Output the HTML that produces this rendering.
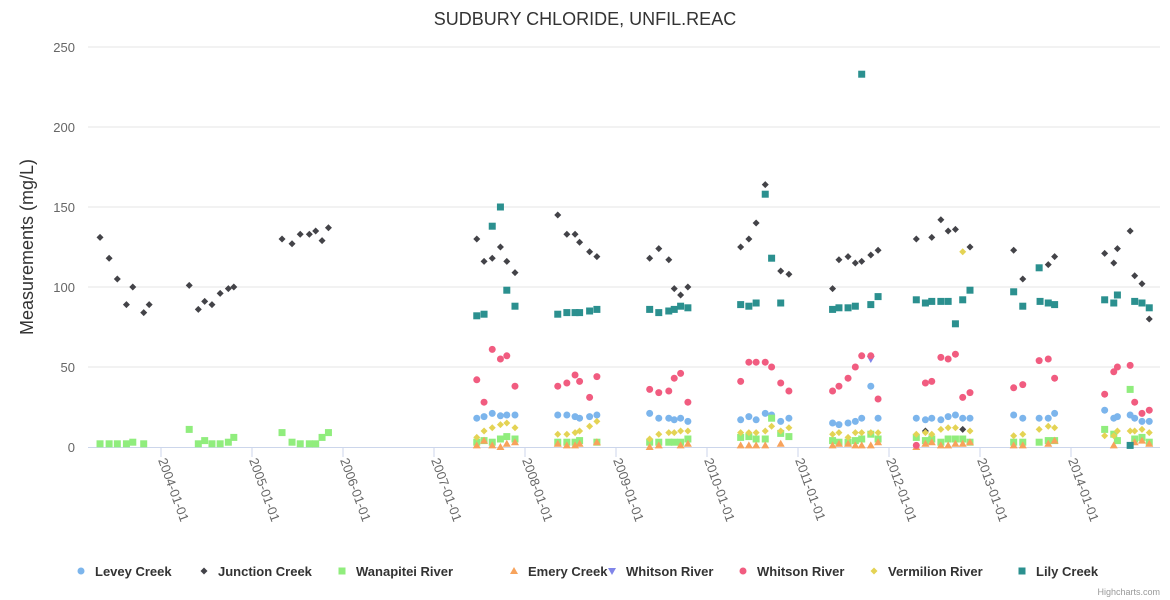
<!DOCTYPE html>
<html><head><meta charset="utf-8"><style>
html,body{margin:0;padding:0;background:#fff;}
svg{display:block;font-family:"Liberation Sans",sans-serif;}
</style></head><body>
<svg id="chart" width="1170" height="600" viewBox="0 0 1170 600">
<text x="585" y="25" text-anchor="middle" font-size="18" fill="#333">SUDBURY CHLORIDE, UNFIL.REAC</text>
<g id="grid"></g><g id="xaxis"></g><g id="yaxis"></g><g id="marks"></g>
<text transform="translate(33,247) rotate(-90)" text-anchor="middle" font-size="18" fill="#333">Measurements (mg/L)</text>
<g id="legend"></g>
<text x="1160" y="595" text-anchor="end" font-size="9" fill="#999">Highcharts.com</text>
</svg>
<script>
const dates=[2003.33,2003.43,2003.52,2003.62,2003.69,2003.81,2003.87,
2004.31,2004.41,2004.48,2004.56,2004.65,2004.74,2004.80,
2005.33,2005.44,2005.53,2005.63,2005.70,2005.77,2005.84,
2007.47,2007.55,2007.64,2007.73,2007.80,2007.89,
2008.36,2008.46,2008.55,2008.60,2008.71,2008.79,
2009.37,2009.47,2009.58,2009.64,2009.71,2009.79,
2010.37,2010.46,2010.54,2010.64,2010.71,2010.81,2010.90,
2011.38,2011.45,2011.55,2011.63,2011.70,2011.80,2011.88,
2012.30,2012.40,2012.47,2012.57,2012.65,2012.73,2012.81,2012.89,
2013.37,2013.47,2013.65,2013.66,2013.75,2013.82,
2014.37,2014.47,2014.51,2014.65,2014.70,2014.78,2014.86];
const N=null;
const E21=Array(21).fill(null);
const levey=E21.concat([18,19,21,19.5,20,20, 20,20,19,18,19,20, 21,18,18,17,18,16, 17,19,17,21,20,16,18, 15,14,15,16,18,38,18, 18,17,18,17,19,20,18,18, 20,18,18,N,18,21, 23,18,19,20,18,16,16]);
const junction=[131,118,105,89,100,84,89, 101,86,91,89,96,99,100, 130,127,133,133,135,129,137].concat([130,116,118,125,116,109, 145,133,133,128,122,119, 118,124,117,99,95,100, 125,130,140,164,N,110,108, 99,117,119,115,116,120,123, 130,10,131,142,135,136,11,125, 123,105,N,N,114,119, 121,115,124,135,107,102,80]);
const wanapitei=[2,2,2,2,3,2,N, 11,2,4,2,2,3,6, 9,3,2,2,2,6,9].concat([3,4,3,5,6.5,5, 3,3,3,4,N,3, 3,3,3,3,3,5, 6,6.5,5,5,18,8.5,6.5, 4,3,3,4,5,8,5, 6,4,5,3,5,5,5,3, 3,3,3,N,4,4, 11,8,4,36,5,6,3]);
const emery=E21.concat([1,4,1,0,2,3, 2,1,1,2,N,3, 0,1,N,N,1,2, 1,1,1,1,N,2,N, 1,2,2,1,1,1,3, 0,2,3,1,1,2,2,3, 1,1,N,N,2,4, N,1,N,N,3,4,2]);
const whitsonB=E21.concat(Array(30).fill(null)).concat([55]).concat(Array(22).fill(null));
const whitsonR=E21.concat([42,28,61,55,57,38, 38,40,45,41,31,44, 36,34,35,43,46,28, 41,53,53,53,50,40,35, 35,38,43,50,57,57,30, 1,40,41,56,55,58,31,34, 37,39,54,N,55,43, 33,47,50,51,28,21,23]);
const vermilion=E21.concat([6,10,12,14,15,12, 8,8,9,10,13,16, 5,8,9,9,10,10, 9,9,9,10,13,10,12, 8,9,6,9,9,9,9, 8,9,8,11,12,12,122,10, 7,8,11,N,13,12, 7,7,10,10,10,11,9]);
const lily=E21.concat([82,83,138,150,98,88, 83,84,84,84,85,86, 86,84,85,86,88,87, 89,88,90,158,118,90,N, 86,87,87,88,233,89,94, 92,90,91,91,91,77,92,98, 97,88,112,91,90,89, 92,90,95,1,91,90,87]);
const yTicks=[0,50,100,150,200,250];
const xTickYears=[2004,2005,2006,2007,2008,2009,2010,2011,2012,2013,2014];
const seriesNames=["Levey Creek","Junction Creek","Wanapitei River","Emery Creek","Whitson River","Whitson River","Vermilion River","Lily Creek"];
const seriesData=[levey,junction,wanapitei,emery,whitsonB,whitsonR,vermilion,lily];
const colors=["#7cb5ec","#434348","#90ed7d","#f7a35c","#8085e9","#f15c80","#e4d354","#2b908f"];
const symbols=["circle","diamond","square","triangle","triangle-down","circle","diamond","square"];
const legendX=[81,204,342,514,612,743,874,1022];

const NS="http://www.w3.org/2000/svg";
const PL=88,PR=1160,PT=47,PB=447;
function xs(d){return 161+(d-2004)*91;}
function ys(v){return PB-(v/250)*(PB-PT);}
function mk(tag,attrs,parent){const e=document.createElementNS(NS,tag);for(const k in attrs)e.setAttribute(k,attrs[k]);parent.appendChild(e);return e;}
const grid=document.getElementById('grid'),yaxis=document.getElementById('yaxis'),xaxis=document.getElementById('xaxis'),marks=document.getElementById('marks'),legend=document.getElementById('legend');
yTicks.forEach(t=>{
  const y=ys(t);
  if(t>0){const l=mk('line',{x1:PL,x2:PR,y1:y,y2:y,stroke:'#e6e6e6','stroke-width':1},grid);
  
  }
  const tx=mk('text',{x:75,y:y+5,'text-anchor':'end','font-size':13,fill:'#666'},yaxis);
  tx.textContent=t;
  
  
});
const ax=mk('line',{x1:PL,x2:PR,y1:PB+0.5,y2:PB+0.5,stroke:'#ccd6eb','stroke-width':1},xaxis);


xTickYears.forEach(yr=>{
  const x=xs(yr);
  const tk=mk('line',{x1:x,x2:x,y1:PB,y2:PB+10,stroke:'#ccd6eb'},xaxis);
  
  
  const t=mk('text',{transform:`translate(${x-3},${PB+13}) rotate(70)`,'font-size':13,fill:'#666'},xaxis);
  t.textContent=yr+'-01-01';
  
  
});
function sym(kind,x,y,color,parent){
  let e;
  if(kind==='circle')e=mk('circle',{cx:x,cy:y,r:3.5,fill:color},parent);
  else if(kind==='square')e=mk('rect',{x:x-3.5,y:y-3.5,width:7,height:7,fill:color},parent);
  else if(kind==='diamond')e=mk('path',{d:`M${x} ${y-3.5}L${x+3.5} ${y}L${x} ${y+3.5}L${x-3.5} ${y}Z`,fill:color},parent);
  else if(kind==='triangle')e=mk('path',{d:`M${x} ${y-4}L${x+4} ${y+3}L${x-4} ${y+3}Z`,fill:color},parent);
  else e=mk('path',{d:`M${x-4} ${y-3}L${x+4} ${y-3}L${x} ${y+4}Z`,fill:color},parent);
  return e;
}
seriesData.forEach((arr,si)=>{
  const g=mk('g',{},marks);
  
  
  arr.forEach((v,i)=>{
    if(v===null||v===undefined)return;
    const p=sym(symbols[si],xs(dates[i]),ys(v),colors[si],g);
    
    
  });
});
seriesNames.forEach((n,si)=>{
  const g=mk('g',{},legend);
  
  
  sym(symbols[si],legendX[si],571,colors[si],g);
  const t=mk('text',{x:legendX[si]+14,y:576,'font-size':13,'font-weight':'bold',fill:'#333'},g);
  t.textContent=n;
});
</script>
</body></html>
